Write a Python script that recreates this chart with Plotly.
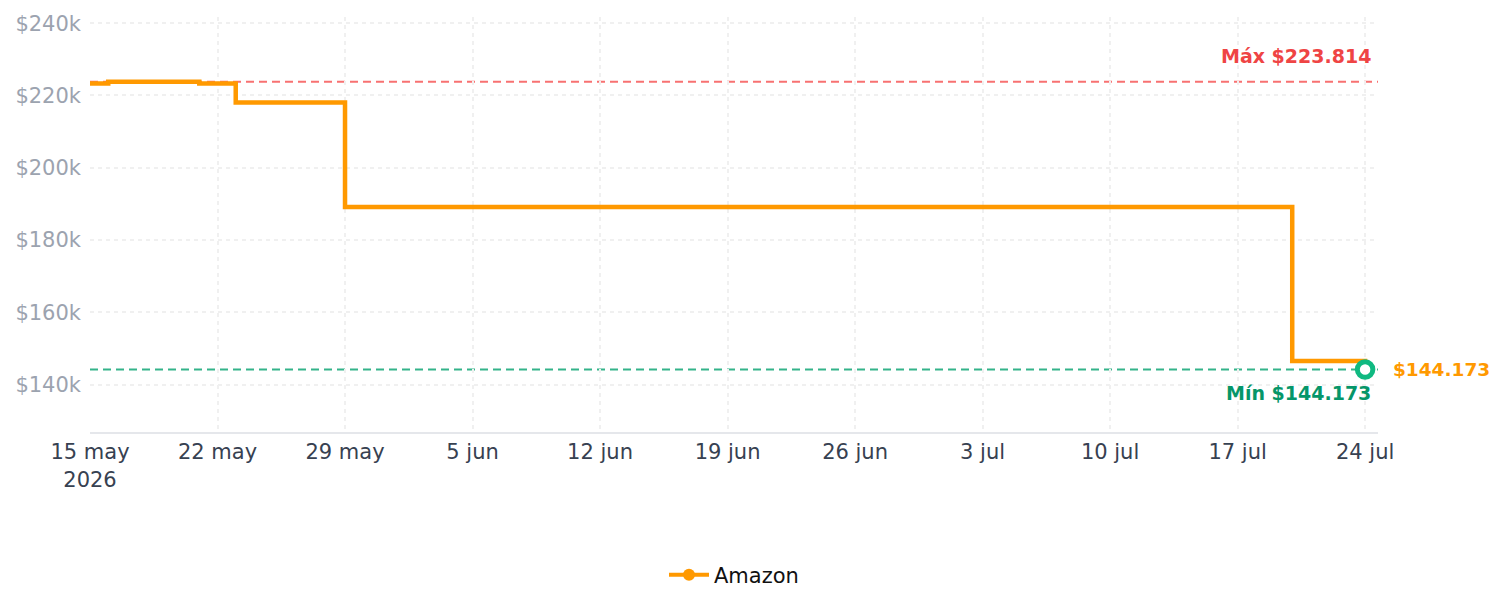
import plotly.graph_objects as go

# ---- data ----
dates = ["2026-05-15", "2026-05-16", "2026-05-21", "2026-05-23", "2026-05-29", "2026-07-20", "2026-07-24"]
prices = [223350, 223814, 223350, 218050, 189150, 146550, 144173]
series_name = "Amazon"
max_price = 223814
min_price = 144173
last_date = "2026-07-24"
last_price = 144173

tick_dates = ["2026-05-15", "2026-05-22", "2026-05-29", "2026-06-05", "2026-06-12", "2026-06-19",
              "2026-06-26", "2026-07-03", "2026-07-10", "2026-07-17", "2026-07-24"]
tick_labels = ["15 may<br>2026", "22 may", "29 may", "5 jun", "12 jun", "19 jun",
               "26 jun", "3 jul", "10 jul", "17 jul", "24 jul"]
y_ticks = [140000, 160000, 180000, 200000, 220000, 240000]
y_tick_labels = ["$140k", "$160k", "$180k", "$200k", "$220k", "$240k"]

ORANGE = "#FF9900"
FONT = "DejaVu Sans"

fig = go.Figure()
fig.add_trace(go.Scatter(
    x=dates, y=prices, mode="lines", line=dict(color=ORANGE, width=4.5, shape="hv"),
    showlegend=False, hoverinfo="skip"))
# legend entry
fig.add_trace(go.Scatter(
    x=[None], y=[None], mode="lines+markers", name=series_name,
    line=dict(color=ORANGE, width=4), marker=dict(color=ORANGE, size=12)))
# last point marker
fig.add_trace(go.Scatter(
    x=[last_date], y=[last_price], mode="markers", showlegend=False,
    marker=dict(color="white", size=15.5, line=dict(color="#10B981", width=5))))

# reference lines
fig.add_shape(type="line", xref="paper", x0=0, x1=1, yref="y", y0=max_price, y1=max_price,
              line=dict(color="#F87171", width=2, dash="8px,5px"), layer="below")
fig.add_shape(type="line", xref="paper", x0=0, x1=1, yref="y", y0=min_price, y1=min_price,
              line=dict(color="#34B38A", width=2, dash="8px,5px"), layer="below")

fig.add_annotation(xref="paper", x=0.9965, yref="y", y=max_price, text="<b>Máx $223.814</b>",
                   showarrow=False, xanchor="right", yanchor="bottom", yshift=13,
                   font=dict(family=FONT, size=19, color="#EF4444"))
fig.add_annotation(xref="paper", x=0.9965, yref="y", y=min_price, text="<b>Mín $144.173</b>",
                   showarrow=False, xanchor="right", yanchor="top", yshift=-11,
                   font=dict(family=FONT, size=19, color="#059669"))
fig.add_annotation(x=last_date, y=last_price, text=f"<b>${last_price/1000:.3f}</b>",
                   showarrow=False, xanchor="left", yanchor="middle", xshift=26,
                   font=dict(family=FONT, size=18.5, color=ORANGE))

fig.update_layout(
    width=1505, height=610,
    margin=dict(l=90, r=127, t=17, b=178),
    plot_bgcolor="white", paper_bgcolor="white",
    font=dict(family=FONT, size=21),
    legend=dict(orientation="h", x=0.5, xanchor="center", y=-0.345, yanchor="middle",
                itemwidth=40,
                font=dict(family=FONT, size=21, color="#111111")),
    xaxis=dict(
        type="date", range=["2026-05-15", "2026-07-24 17:00"],
        tickvals=tick_dates, ticktext=tick_labels,
        showgrid=True, gridcolor="#F0F0F0", griddash="4px,4px", gridwidth=1.5,
        showline=True, linecolor="#E5E7EB", linewidth=2,
        zeroline=False, ticks="", tickfont=dict(family=FONT, size=21, color="#374151")),
    yaxis=dict(
        range=[126872, 241719], tickvals=y_ticks, ticktext=y_tick_labels,
        showgrid=True, gridcolor="#F0F0F0", griddash="4px,4px", gridwidth=1.5,
        showline=False, zeroline=False, ticks="", ticklabelstandoff=8,
        tickfont=dict(family=FONT, size=21, color="#9CA3AF")),
)

fig.write_html("out.html")
